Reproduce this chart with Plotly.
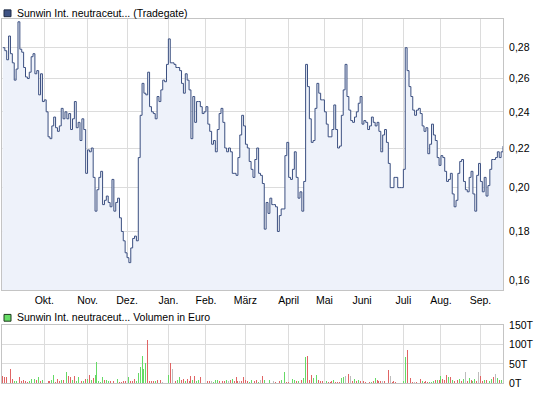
import plotly.graph_objects as go

W, H = 545, 398

prices = [
    0.280, 0.278, 0.272, 0.288, 0.276, 0.270, 0.259, 0.266, 0.298, 0.279,
    0.277, 0.267, 0.261, 0.260, 0.264, 0.274, 0.276, 0.263, 0.265, 0.250,
    0.263, 0.246, 0.247, 0.240, 0.226, 0.225, 0.232, 0.237, 0.231, 0.229,
    0.232, 0.242, 0.236, 0.240, 0.236, 0.239, 0.230, 0.236, 0.246, 0.231,
    0.234, 0.224, 0.236, 0.230, 0.207, 0.219, 0.218, 0.220, 0.205, 0.189,
    0.199, 0.205, 0.208, 0.192, 0.194, 0.196, 0.193, 0.191, 0.204, 0.189,
    0.193, 0.195, 0.186, 0.180, 0.176, 0.171, 0.169, 0.167, 0.173, 0.177,
    0.178, 0.176, 0.215, 0.238, 0.257, 0.251, 0.250, 0.264, 0.243, 0.240,
    0.239, 0.236, 0.249, 0.246, 0.253, 0.259, 0.258, 0.269, 0.286, 0.270,
    0.270, 0.269, 0.267, 0.267, 0.265, 0.257, 0.251, 0.263, 0.259, 0.253,
    0.225, 0.249, 0.234, 0.246, 0.246, 0.243, 0.239, 0.240, 0.243, 0.233,
    0.229, 0.222, 0.224, 0.218, 0.230, 0.239, 0.242, 0.234, 0.220, 0.218,
    0.220, 0.218, 0.207, 0.207, 0.206, 0.215, 0.227, 0.238, 0.232, 0.222,
    0.220, 0.213, 0.209, 0.205, 0.214, 0.220, 0.207, 0.206, 0.202, 0.181,
    0.193, 0.188, 0.195, 0.192, 0.192, 0.191, 0.180, 0.187, 0.190, 0.190,
    0.216, 0.223, 0.205, 0.204, 0.209, 0.218, 0.205, 0.195, 0.198, 0.189,
    0.203, 0.269, 0.255, 0.236, 0.223, 0.224, 0.242, 0.257, 0.251, 0.247,
    0.247, 0.240, 0.233, 0.226, 0.226, 0.230, 0.244, 0.230, 0.220, 0.221,
    0.238, 0.253, 0.269, 0.249, 0.241, 0.235, 0.234, 0.237, 0.240, 0.245,
    0.249, 0.233, 0.235, 0.234, 0.230, 0.232, 0.237, 0.234, 0.232, 0.234,
    0.229, 0.218, 0.227, 0.230, 0.223, 0.212, 0.200, 0.200, 0.205, 0.205,
    0.200, 0.200, 0.200, 0.209, 0.280, 0.265, 0.255, 0.249, 0.241, 0.238,
    0.241, 0.242, 0.239, 0.232, 0.229, 0.231, 0.217, 0.222, 0.233, 0.227,
    0.224, 0.215, 0.211, 0.216, 0.215, 0.208, 0.203, 0.204, 0.207, 0.197,
    0.191, 0.194, 0.207, 0.213, 0.214, 0.203, 0.199, 0.198, 0.205, 0.208,
    0.197, 0.189, 0.206, 0.212, 0.203, 0.198, 0.205, 0.196, 0.201, 0.209,
    0.214, 0.214, 0.215, 0.218, 0.215, 0.218, 0.221,
]

volumes_t = [
    19, 17, 17, 2, 38, 11, 5, 7, 18, 17,
    5, 8, 5, 4, 5, 10, 7, 11, 9, 15,
    7, 8, 2, 2, 5, 7, 8, 21, 3, 11,
    5, 8, 8, 8, 30, 19, 17, 9, 18, 7,
    17, 13, 7, 7, 10, 10, 21, 8, 13, 21,
    55, 7, 4, 17, 8, 9, 7, 7, 5, 5,
    2, 11, 4, 4, 5, 5, 9, 15, 6, 7,
    10, 5, 26, 42, 71, 37, 53, 111, 5, 5,
    5, 7, 8, 10, 8, 3, 2, 2, 21, 52,
    38, 19, 5, 8, 15, 8, 11, 5, 10, 5,
    19, 8, 18, 5, 8, 17, 2, 2, 5, 7,
    5, 5, 4, 8, 8, 5, 5, 5, 5, 8,
    5, 8, 10, 5, 15, 7, 5, 7, 16, 8,
    5, 4, 8, 4, 5, 8, 4, 8, 18, 8,
    2, 2, 8, 2, 5, 4, 2, 5, 8, 2,
    28, 4, 3, 2, 11, 8, 5, 5, 5, 8,
    13, 68, 71, 8, 22, 13, 5, 21, 8, 5,
    5, 2, 5, 4, 4, 5, 8, 4, 4, 4,
    13, 15, 18, 13, 23, 18, 5, 11, 5, 8,
    5, 4, 5, 4, 2, 4, 4, 5, 13, 8,
    5, 5, 5, 5, 2, 33, 18, 3, 7, 4,
    2, 2, 2, 5, 68, 86, 11, 13, 4, 4,
    4, 2, 11, 5, 4, 5, 3, 3, 4, 5,
    8, 8, 8, 19, 11, 8, 21, 15, 17, 8,
    5, 13, 8, 11, 5, 11, 30, 5, 13, 8,
    5, 11, 5, 30, 19, 5, 8, 8, 2, 5,
    11, 17, 23, 13, 8, 8, 2,
]

# u = up day, d = down day, n = unchanged
volume_dir = (
    "d d d d d d u u u d "
    "d d d d u u d u d u "
    "d u d u d d u u d d "
    "d u d d u d d u d u "
    "u d d u d u d u d u "
    "u u u u d u u d u d "
    "d u d d d d d u d d "
    "d u u u u u u d d d "
    "d u d u d n d u u d "
    "n n d u u d d u d d "
    "d u d u u d d u u d "
    "d n u u u d d d d u "
    "n d u d d d n d d d "
    "d u u u d d u n d u "
    "d u u d n d d d u u "
    "u d d u u u d u u d "
    "u u d d d u d u d d "
    "d u u d d d u d d d "
    "u u n u d n d u d u "
    "d n d d d d u d u d "
    "d d n d d d n d d d "
    "d d u u u d u d d n "
    "d d d u d d d u u u "
    "d u d u d d d u d u "
    "d u d u d u n d u d "
    "u u d n d d u d d u "
    "u d n u d u u"
).split()

month_labels = ["Okt.", "Nov.", "Dez.", "Jan.", "Feb.", "März",
                "April", "Mai", "Juni", "Juli", "Aug.", "Sep."]
month_start_idx = [22, 45, 66, 88, 108, 129, 152, 171, 191, 213, 233, 254]

price_ticks = [0.16, 0.18, 0.20, 0.22, 0.24, 0.26, 0.28]
price_tick_text = ["0,16", "0,18", "0,20", "0,22", "0,24", "0,26", "0,28"]
vol_ticks = [0, 50, 100, 150]
vol_tick_text = ["0T", "50T", "100T", "150T"]

title_price = "Sunwin Int. neutraceut... (Tradegate)"
title_volume = "Sunwin Int. neutraceut... Volumen in Euro"

days = list(range(len(prices)))
dir_colors = {"u": "#66d966", "d": "#e06464", "n": "#bdbdbd"}
bar_colors = [dir_colors[d] for d in volume_dir]

FONT = "Liberation Sans"
GRID = "#dcdcdc"
BORDER = "#c4c4c4"

fig = go.Figure()

# invisible baseline below the visible range for the area fill
fig.add_trace(go.Scatter(x=[-1, len(prices)], y=[0.1, 0.1], mode="lines",
                         line=dict(width=0, color="rgba(0,0,0,0)"),
                         hoverinfo="skip", showlegend=False,
                         xaxis="x", yaxis="y"))
fig.add_trace(go.Scatter(x=days, y=prices, mode="lines",
                         line=dict(color="#3b4f80", width=1, shape="hv"),
                         fill="tonexty", fillcolor="#eef2fa",
                         showlegend=False, xaxis="x", yaxis="y"))
fig.add_trace(go.Bar(x=days, y=volumes_t, marker=dict(color=bar_colors, line=dict(width=0)),
                     width=0.5, showlegend=False, xaxis="x2", yaxis="y2"))

x0, x1 = 2 / W, 503 / W
fig.update_layout(
    width=W, height=H,
    margin=dict(l=0, r=0, t=0, b=0),
    paper_bgcolor="white", plot_bgcolor="white",
    font=dict(family=FONT, size=10.5, color="#000000"),
    bargap=0,
    xaxis=dict(domain=[x0, x1], range=[-0.5, 266], anchor="y",
               tickmode="array", tickvals=month_start_idx, ticktext=month_labels,
               showgrid=True, gridcolor=GRID, gridwidth=1, ticks="",
               showline=True, linecolor=BORDER, mirror=True, zeroline=False,
               tickfont=dict(family=FONT, size=10.5)),
    yaxis=dict(domain=[1 - 293 / H, 1 - 13 / H], type="log",
               range=[-0.80604, -0.52244], anchor="x", side="right",
               tickmode="array", tickvals=price_ticks, ticktext=price_tick_text,
               showgrid=True, gridcolor=GRID, gridwidth=1, ticks="",
               showline=True, linecolor=BORDER, mirror=True, zeroline=False,
               ticklabelstandoff=3,
               tickfont=dict(family=FONT, size=10.5)),
    xaxis2=dict(domain=[x0, x1], range=[-0.5, 266], anchor="y2",
                tickmode="array", tickvals=month_start_idx, showticklabels=False,
                showgrid=True, gridcolor=GRID, gridwidth=1, ticks="",
                showline=True, linecolor=BORDER, mirror=True, zeroline=False),
    yaxis2=dict(domain=[1 - 389 / H, 1 - 329 / H], range=[0, 150], anchor="x2",
                side="right", tickmode="array", tickvals=vol_ticks, ticktext=vol_tick_text,
                showgrid=True, gridcolor=GRID, gridwidth=1, ticks="",
                showline=True, linecolor=BORDER, mirror=True, zeroline=False,
                ticklabelstandoff=3,
                tickfont=dict(family=FONT, size=10.5)),
    shapes=[
        dict(type="rect", xref="paper", yref="paper",
             x0=4 / W, x1=11 / W, y0=1 - 11 / H, y1=1 - 4 / H,
             fillcolor="#3d5283", line=dict(color="#1e2a44", width=1)),
        dict(type="rect", xref="paper", yref="paper",
             x0=4 / W, x1=11 / W, y0=1 - 325 / H, y1=1 - 318 / H,
             fillcolor="#66dd66", line=dict(color="#1e3a1e", width=1)),
    ],
    annotations=[
        dict(text=title_price, xref="paper", yref="paper", x=15 / W, y=1 - 7 / H,
             xanchor="left", yanchor="middle", showarrow=False,
             font=dict(family=FONT, size=10.5, color="#000")),
        dict(text=title_volume, xref="paper", yref="paper", x=15 / W, y=1 - 321 / H,
             xanchor="left", yanchor="middle", showarrow=False,
             font=dict(family=FONT, size=10.5, color="#000")),
    ],
)

fig.write_html("out.html",
               config={"displayModeBar": False, "staticPlot": True},
               post_script="document.body.style.margin='0';document.body.style.overflow='hidden';")
